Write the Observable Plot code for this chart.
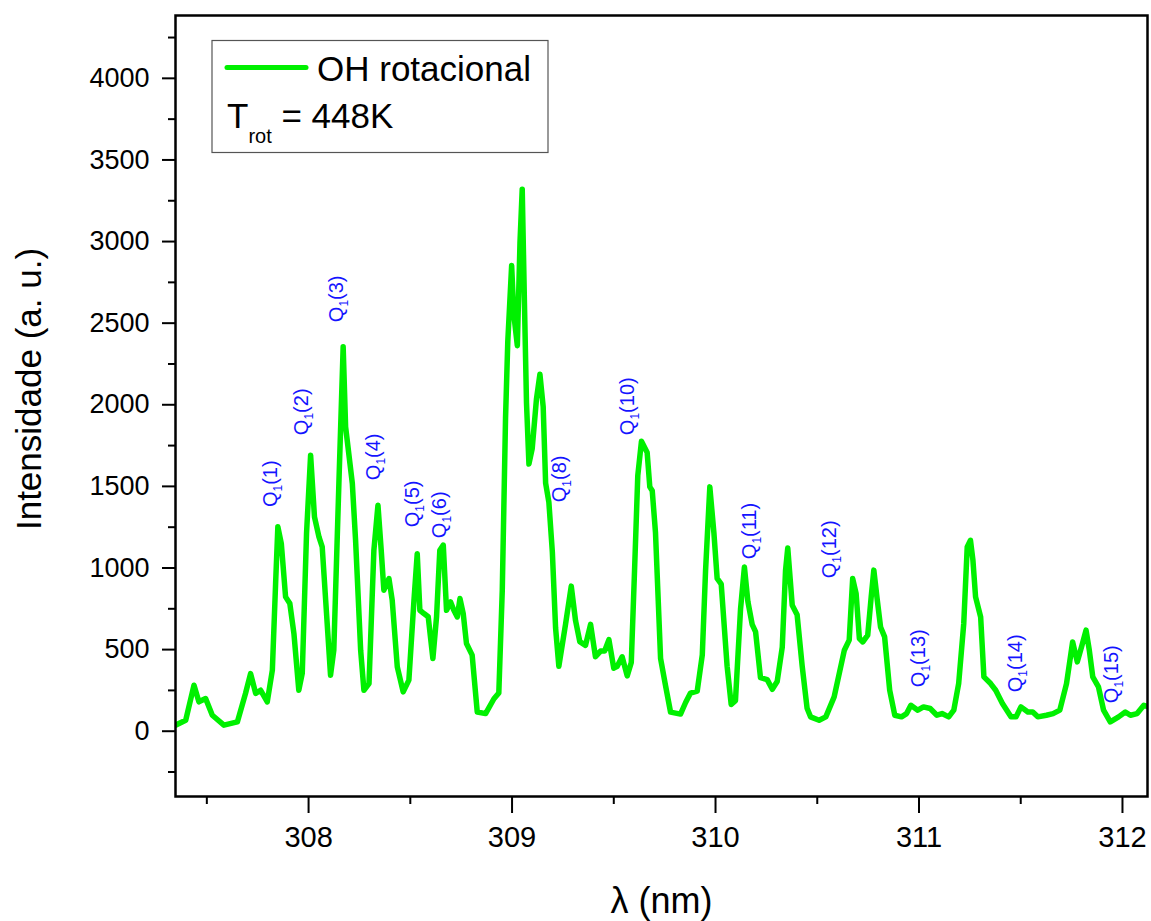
<!DOCTYPE html>
<html>
<head>
<meta charset="utf-8">
<script src="https://cdn.jsdelivr.net/npm/d3@7"></script>
<script src="https://cdn.jsdelivr.net/npm/@observablehq/plot@0.6"></script>
<style>
  html, body { margin: 0; padding: 0; background: white; }
  #wrap { position: relative; width: 1151px; height: 921px; }
  #legend { position: absolute; left: 0; top: 0; pointer-events: none; }
</style>
</head>
<body>
<div id="wrap"></div>
<script>
// wavelength (nm)
const lambda = [
307.346,307.396,307.437,307.461,307.494,307.527,307.584,307.650,307.690,307.715,
307.740,307.764,307.797,307.822,307.838,307.849,307.866,307.887,307.908,307.928,
307.952,307.969,307.990,308.010,308.029,308.051,308.067,308.084,308.108,308.124,
308.149,308.170,308.182,308.215,308.231,308.256,308.272,308.297,308.321,308.341,
308.357,308.370,308.395,308.411,308.436,308.465,308.493,308.518,308.534,308.547,
308.567,308.588,308.611,308.629,308.645,308.662,308.678,308.698,308.714,308.731,
308.744,308.760,308.776,308.804,308.829,308.870,308.911,308.935,308.952,308.968,
308.979,308.998,309.009,309.026,309.039,309.050,309.061,309.071,309.083,309.099,
309.120,309.137,309.153,309.165,309.181,309.198,309.214,309.230,309.263,309.291,
309.312,309.333,309.361,309.386,309.410,309.435,309.455,309.476,309.500,309.517,
309.541,309.566,309.586,309.602,309.618,309.636,309.664,309.677,309.689,309.705,
309.730,309.754,309.779,309.828,309.853,309.877,309.910,309.935,309.951,309.972,
309.992,310.008,310.028,310.057,310.077,310.098,310.123,310.142,310.159,310.180,
310.197,310.221,310.254,310.279,310.303,310.328,310.344,310.355,310.377,310.401,
310.426,310.450,310.467,310.509,310.542,310.583,310.633,310.657,310.674,310.691,
310.707,310.724,310.748,310.765,310.778,310.795,310.811,310.831,310.856,310.881,
310.914,310.939,310.960,310.994,311.022,311.055,311.088,311.113,311.146,311.171,
311.195,311.220,311.237,311.253,311.265,311.278,311.303,311.319,311.352,311.377,
311.410,311.452,311.477,311.501,311.535,311.559,311.584,311.626,311.659,311.692,
311.725,311.755,311.778,311.799,311.821,311.837,311.854,311.882,311.907,311.940,
311.981,312.014,312.039,312.072,312.105,312.130
];
// intensity (a. u.)
const intensity = [
37,67,282,180,200,98,37,57,231,353,
232,251,180,374,905,1252,1150,823,782,598,
251,355,1213,1691,1313,1191,1129,803,343,496,
1518,2355,1865,1518,1170,496,251,292,1109,1385,
1109,864,935,803,394,241,313,803,1088,741,
721,701,445,701,1109,1140,741,792,741,700,
813,721,537,466,118,108,199,234,866,1918,
2385,2853,2550,2362,2994,3321,2619,2012,1637,1731,
2035,2187,1988,1520,1403,1099,632,398,656,889,
678,549,526,655,456,491,491,561,386,398,
456,339,421,983,1567,1777,1707,1497,1473,1216,
445,281,117,105,176,234,246,468,983,1497,
1216,936,901,398,164,187,749,1006,795,655,
608,328,316,257,304,515,983,1123,772,713,
398,141,88,67,88,210,496,558,935,843,
568,547,588,823,987,803,639,578,251,98,
88,108,159,129,149,139,98,108,88,129,
292,660,1129,1170,1048,823,700,333,292,251,
170,88,88,149,118,118,88,98,108,129,
292,547,425,517,619,496,333,272,129,57,
88,118,98,108,159,149
];

// Q1 line labels
const qNumber = [1, 2, 3, 4, 5, 6, 8, 10, 11, 12, 13, 14, 15];
const qX = [307.813, 307.964, 308.136, 308.321, 308.509, 308.645, 309.233, 309.566, 310.169, 310.563, 310.997, 311.473, 311.948];
const qY = [1373, 1814, 2506, 1538, 1250, 1183, 1403, 1814, 1054, 937, 270, 239, 172];

// axis ticks
const yMajor = [0, 500, 1000, 1500, 2000, 2500, 3000, 3500, 4000];
const yMinor = [-250, 250, 750, 1250, 1750, 2250, 2750, 3250, 3750, 4250];
const xMajor = [308, 309, 310, 311, 312];
const xMinor = [307.5, 308.5, 309.5, 310.5, 311.5];

const seriesName = "OH rotacional";
const tempText = "448K";

const spectrum = lambda.map((x, i) => ({x, y: intensity[i]}));
const qData = qNumber.map((n, i) => ({x: qX[i], y: qY[i], t: "Q1(" + n + ")"}));

const green = "#00f000";
const qBlue = "#1414ff";
const font = "'Liberation Sans', Arial, Helvetica, sans-serif";

const chart = Plot.plot({
  width: 1151,
  height: 921,
  marginLeft: 175,
  marginRight: 4,
  marginTop: 15,
  marginBottom: 125,
  x: {domain: [307.346, 312.123]},
  y: {domain: [-400, 4385]},
  style: {fontFamily: font, background: "white", color: "black"},
  marks: [
    Plot.line(spectrum, {x: "x", y: "y", stroke: green, strokeWidth: 5.5, strokeLinejoin: "round", clip: true}),
    Plot.text(qData, {x: "x", y: "y", text: "t", rotate: -90, textAnchor: "start", lineAnchor: "middle",
      fill: qBlue, fontSize: 20}),
    Plot.frame({stroke: "black", strokeWidth: 2.5}),
    Plot.axisY(yMajor, {tickSize: 13, tickPadding: 13, fontSize: 27, strokeWidth: 2, tickFormat: d => String(d), label: null}),
    Plot.axisY(yMinor, {tickSize: 7, strokeWidth: 2, tickFormat: () => "", label: null}),
    Plot.axisX(xMajor, {tickSize: 17, tickPadding: 13, fontSize: 29, strokeWidth: 2, tickFormat: d => String(d), label: null}),
    Plot.axisX(xMinor, {tickSize: 8, strokeWidth: 2, tickFormat: () => "", label: null}),
    Plot.text(["Intensidade (a. u.)"], {text: d => d, frameAnchor: "left", rotate: -90, dx: -146, dy: -17,
      textAnchor: "middle", lineAnchor: "middle", fontSize: 35}),
    Plot.text(["λ (nm)"], {text: d => d, frameAnchor: "bottom", dy: 116, textAnchor: "middle", lineAnchor: "bottom", fontSize: 36})
  ]
});

// subscript the "1" in Q1(n)
const SVGNS = "http://www.w3.org/2000/svg";
chart.querySelectorAll("text").forEach(t => {
  const s = t.textContent;
  if (!/^Q1\(\d+\)$/.test(s)) return;
  const rest = s.slice(2);
  while (t.firstChild) t.removeChild(t.firstChild);
  t.appendChild(document.createTextNode("Q"));
  const sub = document.createElementNS(SVGNS, "tspan");
  sub.setAttribute("font-size", "12");
  sub.setAttribute("dy", "5");
  sub.textContent = "1";
  t.appendChild(sub);
  const r = document.createElementNS(SVGNS, "tspan");
  r.setAttribute("dy", "-5");
  r.setAttribute("font-size", "20");
  r.textContent = rest;
  t.appendChild(r);
});

const wrap = document.getElementById("wrap");
wrap.appendChild(chart);

// legend box
const lg = d3.select(wrap).append("svg").attr("id", "legend").attr("width", 1151).attr("height", 921)
  .style("font-family", font);
lg.append("rect").attr("x", 212).attr("y", 40.5).attr("width", 336).attr("height", 112)
  .attr("fill", "white").attr("stroke", "#555").attr("stroke-width", 1.2);
lg.append("line").attr("x1", 227).attr("x2", 306).attr("y1", 67.5).attr("y2", 67.5)
  .attr("stroke", green).attr("stroke-width", 5).attr("stroke-linecap", "round");
lg.append("text").attr("x", 317).attr("y", 81).attr("font-size", 35).text(seriesName);
const tt = lg.append("text").attr("x", 227).attr("y", 128).attr("font-size", 35);
tt.append("tspan").text("T");
tt.append("tspan").attr("font-size", 20).attr("dy", 15).text("rot");
tt.append("tspan").attr("dy", -15).text(" = " + tempText);
</script>
</body>
</html>
